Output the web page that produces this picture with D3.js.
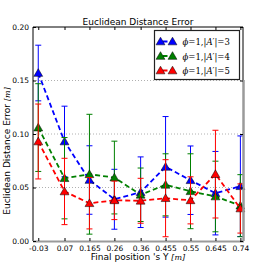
<!DOCTYPE html>
<html>
<head>
<meta charset="utf-8">
<style>
  body { margin: 0; background: #fff; }
  svg { display: block; }
</style>
</head>
<body>
<script src="https://cdn.jsdelivr.net/npm/d3@7"></script>
<script>
// data
var xValues = [-0.03, 0.07, 0.165, 0.26, 0.36, 0.455, 0.55, 0.645, 0.74];
var xTickLabels = ["-0.03", "0.07", "0.165", "0.26", "0.36", "0.455", "0.55", "0.645", "0.74"];
var yTicks = [0, 0.05, 0.10, 0.15, 0.20];
var seriesNames = ["3", "4", "5"];
var blueMean = [0.157, 0.093, 0.057, 0.039, 0.0456, 0.0693, 0.0568, 0.0447, 0.0512];
var blueErr = [0.026, 0.033, 0.032, 0.028, 0.033, 0.047, 0.032, 0.039, 0.047];
var greenMean = [0.106, 0.0587, 0.0624, 0.0593, 0.0432, 0.0525, 0.0465, 0.0416, 0.033];
var greenErr = [0.041, 0.038, 0.056, 0.034, 0.025, 0.029, 0.035, 0.033, 0.029];
var redMean = [0.093, 0.0463, 0.0353, 0.038, 0.0376, 0.040, 0.038, 0.0625, 0.0304];
var redErr = [0.035, 0.031, 0.024, 0.018, 0.021, 0.036, 0.022, 0.041, 0.023];

var series = [
  { name: seriesNames[0], color: "#0000ff", mean: blueMean, err: blueErr },
  { name: seriesNames[1], color: "#008000", mean: greenMean, err: greenErr },
  { name: seriesNames[2], color: "#ff0000", mean: redMean, err: redErr }
];

var width = 270, height = 270;
var margin = { top: 27, right: 27, bottom: 29, left: 33 };

var svg = d3.select("body").append("svg")
    .attr("width", width)
    .attr("height", height)
    .style("font-family", "DejaVu Sans, sans-serif");

var x = d3.scaleLinear()
    .domain([-0.05, 0.75])
    .range([margin.left, width - margin.right]);
var y = d3.scaleLinear()
    .domain([0, 0.2])
    .range([height - margin.bottom, margin.top]);

// grid
svg.append("g")
    .selectAll("line")
    .data(yTicks.slice(1, 4))
    .join("line")
      .attr("x1", margin.left).attr("x2", width - margin.right)
      .attr("y1", d => y(d)).attr("y2", d => y(d))
      .attr("stroke", "#b0b0b0")
      .attr("stroke-width", 1)
      .attr("stroke-dasharray", "1,2");

var tri = d3.symbol().type(d3.symbolTriangle).size(34);

var plot = svg.append("g");
series.forEach(function(s) {
  var pts = xValues.map((v, i) => ({ x: v, m: s.mean[i], e: s.err[i] }));
  var g = plot.append("g");
  // error bars
  g.selectAll(".bar").data(pts).join("line")
      .attr("x1", d => x(d.x)).attr("x2", d => x(d.x))
      .attr("y1", d => y(d.m - d.e)).attr("y2", d => y(d.m + d.e))
      .attr("stroke", s.color).attr("stroke-width", 1);
  g.selectAll(".capTop").data(pts).join("line")
      .attr("x1", d => x(d.x) - 3).attr("x2", d => x(d.x) + 3)
      .attr("y1", d => y(d.m + d.e)).attr("y2", d => y(d.m + d.e))
      .attr("stroke", s.color).attr("stroke-width", 1);
  g.selectAll(".capBot").data(pts).join("line")
      .attr("x1", d => x(d.x) - 3).attr("x2", d => x(d.x) + 3)
      .attr("y1", d => y(d.m - d.e)).attr("y2", d => y(d.m - d.e))
      .attr("stroke", s.color).attr("stroke-width", 1);
  // dashed line
  g.append("path")
      .datum(pts)
      .attr("fill", "none")
      .attr("stroke", s.color)
      .attr("stroke-width", 1.8)
      .attr("stroke-dasharray", "5,3")
      .attr("d", d3.line().x(d => x(d.x)).y(d => y(d.m)));
  // markers
  g.selectAll("path.mk").data(pts).join("path")
      .attr("class", "mk")
      .attr("d", tri)
      .attr("transform", d => `translate(${x(d.x)},${y(d.m) + 0.8})`)
      .attr("fill", s.color)
      .attr("stroke", "#000")
      .attr("stroke-width", 0.5);
});

// spines
var x0 = margin.left, x1 = width - margin.right, y0 = height - margin.bottom, y1 = margin.top;
svg.append("line").attr("x1", x0).attr("x2", x1).attr("y1", y1).attr("y2", y1).attr("stroke", "#000");
svg.append("line").attr("x1", x0).attr("x2", x0).attr("y1", y1).attr("y2", y0).attr("stroke", "#000");
svg.append("line").attr("x1", x0).attr("x2", x1 + 1).attr("y1", y0 + 0.5).attr("y2", y0 + 0.5)
    .attr("stroke", "#9a9a9a").attr("stroke-width", 2);
svg.append("line").attr("x1", x1).attr("x2", x1).attr("y1", y1).attr("y2", 80).attr("stroke", "#000");
svg.append("line").attr("x1", x1 + 0.5).attr("x2", x1 + 0.5).attr("y1", 80).attr("y2", y0)
    .attr("stroke", "#9a9a9a").attr("stroke-width", 2.5);

// axes with inward ticks
var xAxis = svg.append("g")
    .attr("transform", `translate(0,${y0})`)
    .call(d3.axisBottom(x).tickValues(xValues).tickFormat((d, i) => xTickLabels[i])
      .tickSizeInner(-3).tickSizeOuter(0).tickPadding(5));
xAxis.select(".domain").remove();
svg.append("g")
    .attr("transform", `translate(0,${y1})`)
    .call(d3.axisTop(x).tickValues(xValues).tickFormat("").tickSizeInner(-3).tickSizeOuter(0))
    .select(".domain").remove();
var yAxis = svg.append("g")
    .attr("transform", `translate(${x0},0)`)
    .call(d3.axisLeft(y).tickValues(yTicks).tickFormat(d3.format(".2f"))
      .tickSizeInner(-3).tickSizeOuter(0).tickPadding(4));
yAxis.select(".domain").remove();
svg.append("g")
    .attr("transform", `translate(${x1},0)`)
    .call(d3.axisRight(y).tickValues(yTicks).tickFormat("").tickSizeInner(-3).tickSizeOuter(0))
    .select(".domain").remove();
svg.selectAll(".tick text")
    .style("font-family", "DejaVu Sans, sans-serif")
    .style("font-size", "7.5px")
    .attr("fill", "#000");
svg.selectAll(".tick line").attr("stroke", "#000");

// title and labels
svg.append("text")
    .attr("x", (x0 + x1) / 2).attr("y", 24.5)
    .attr("text-anchor", "middle")
    .style("font-size", "9px")
    .text("Euclidean Distance Error");

var xl = svg.append("text")
    .attr("x", (x0 + x1) / 2).attr("y", 260)
    .attr("text-anchor", "middle")
    .style("font-size", "9px");
xl.append("tspan").text("Final position 's Y ");
xl.append("tspan").style("font-family", "DejaVu Serif, serif").style("font-style", "italic").style("font-size", "8px").text("[m]");

var yl = svg.append("text")
    .attr("transform", "translate(10,151) rotate(-90)")
    .attr("text-anchor", "middle")
    .style("font-size", "9px");
yl.append("tspan").text("Euclidean Distance Error ");
yl.append("tspan").style("font-family", "DejaVu Serif, serif").style("font-style", "italic").style("font-size", "8px").text("[m]");

// legend
var lg = svg.append("g").attr("transform", "translate(154.5,30.5)");
lg.append("rect")
    .attr("width", 85).attr("height", 49)
    .attr("fill", "#fff")
    .attr("stroke", "#222").attr("stroke-width", 1.2);
series.forEach(function(s, i) {
  var row = lg.append("g").attr("transform", `translate(0,${11 + i * 14.5})`);
  row.append("line")
      .attr("x1", 6).attr("x2", 18)
      .attr("stroke", s.color).attr("stroke-width", 1.8)
      .attr("stroke-dasharray", "5,3").attr("stroke-dashoffset", -2);
  [6, 18].forEach(function(px) {
    row.append("path").attr("d", tri)
        .attr("transform", `translate(${px},0.8)`)
        .attr("fill", s.color).attr("stroke", "#000").attr("stroke-width", 0.5);
  });
  var t = row.append("text")
      .attr("x", 28).attr("y", 3.5)
      .style("font-family", "DejaVu Serif, serif")
      .style("font-size", "8.5px");
  t.append("tspan").style("font-style", "italic").text("ϕ");
  t.append("tspan").text("=1,|");
  t.append("tspan").style("font-style", "italic").text("A");
  t.append("tspan").text("′|=" + s.name);
});
</script>
</body>
</html>
